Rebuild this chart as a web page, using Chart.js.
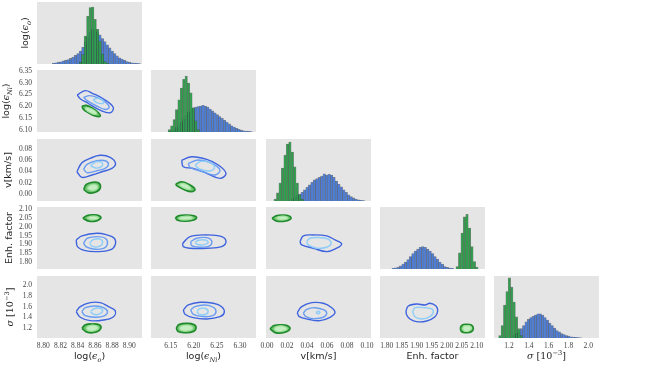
<!DOCTYPE html>
<html>
<head>
<meta charset="utf-8">
<script src="https://cdn.jsdelivr.net/npm/chart.js@4.4.1/dist/chart.umd.min.js"></script>
<style>
  html, body { margin: 0; padding: 0; background: #fff; }
  #fig { position: relative; width: 658px; height: 367px; overflow: hidden; }
  #fig canvas { position: absolute; }
</style>
</head>
<body>
<div id="fig"></div>
<script>
// parameter names ($..$ = math, _{..} subscript, ^{..} superscript)
var paramNames = ['log($ϵ_{o}$)', 'log($ϵ_{Ni}$)', 'v[km/s]', 'Enh. factor', '$σ$ $[10^{−3}]$'];

// axis ranges: columns (x) and rows (y)
var colMin = [8.7927, 6.1073, -0.001, 1.7777, 1.0487];
var colMax = [8.9148, 6.3347, 0.104, 2.1277, 2.108];
var rowMin = [0, 6.092, -0.0124, 1.762, 1.02];
var rowMax = [100, 6.353, 0.0978, 2.111, 2.166];
var histTop = 100;

// tick labels
var ticksEpsO = [8.80, 8.82, 8.84, 8.86, 8.88, 8.90];
var ticksEpsNi = [6.10, 6.15, 6.20, 6.25, 6.30, 6.35];
var ticksV = [0.00, 0.02, 0.04, 0.06, 0.08, 0.10];
var ticksEnh = [1.80, 1.85, 1.90, 1.95, 2.00, 2.05, 2.10];
var ticksSigma = [1.2, 1.4, 1.6, 1.8, 2.0];
var tickDigits = [2, 2, 2, 2, 1];

// histograms (height in % of panel), first bin edge [blue, green], common bin width
var histEpsOBlue = [1,2,3,3.5,5,6,7,9,11,14,17,21,27,35,44,52,56,55,51,47,41,36,31,26,21,17,13,10,8,6,4,3,2,1.5,1,0.5];
var histEpsOGreen = [3,15,45,77,91,92,72,56,37,16,4,1];
var histEpsOEdge = [8.8104, 8.8418];
var histEpsOBin = 0.00285;

var histEpsNiBlue = [1,2,4,7,11,16,21,27,32,36,39,40,41,42,43,42,40,37,34,31,28,25,22,19,16,13,10,8,6,4.5,3,2,1.5,1,0.5];
var histEpsNiGreen = [4,10,20,36,52,71,85,90,79,63,39,18,4];
var histEpsNiEdge = [6.1445, 6.1445];
var histEpsNiBin = 0.0052;

var histVBlue = [3,6,9,11,14,18,22,26,30,34,36,38,40,44,42,43,42,38,32,27,23,18,14,10,7,5,3,2,1,0.5];
var histVGreen = [3,13,29,53,74,92,95,79,55,29,10,3];
var histVEdge = [0.02415, 0.007];
var histVBin = 0.00245;

var histEnhBlue = [1,2,3,5,8,11,15,20,25,29,32,35,36,35,32,29,25,20,16,11,8,4,2.5,1.5,1];
var histEnhGreen = [4,26,58,84,88,66,36,12,3];
var histEnhEdge = [1.8177, 2.0309];
var histEnhBin = 0.0082;

var histSigmaBlue = [5,8,11,15,20,26,30,33,35,37,39,39,37,33,29,24,20,16,12,10,7,5.5,4,3,2,1.5,1,0.5,0.3];
var histSigmaGreen = [4,20,53,75,97,82,58,34,15,4];
var histSigmaEdge = [1.2401, 1.0961];
var histSigmaBin = 0.024;

// contours: blue [outer, middle, inner], green [outer, inner]
var ctrNiO_blue = [
  [[8.8395,6.248],[8.8488,6.266],[8.857,6.255],[8.870,6.231],[8.8813,6.196],[8.878,6.173],[8.866,6.184],[8.852,6.213],[8.843,6.232]],
  [[8.8468,6.238],[8.8538,6.245],[8.8624,6.238],[8.872,6.219],[8.8767,6.196],[8.872,6.187],[8.8624,6.201],[8.851,6.224]],
  [[8.858,6.229],[8.864,6.234],[8.870,6.222],[8.869,6.212],[8.862,6.216]]
];
var ctrNiO_green = [
  [[8.845,6.201],[8.850,6.204],[8.8577,6.1915],[8.8642,6.173],[8.8662,6.159],[8.8604,6.159],[8.8526,6.173],[8.8468,6.187]],
  [[8.850,6.196],[8.856,6.190],[8.862,6.175],[8.861,6.166],[8.855,6.172],[8.849,6.187]]
];
var ctrVO_blue = [
  [[8.8391,0.0396],[8.8449,0.0556],[8.8546,0.0635],[8.8662,0.0688],[8.8778,0.0652],[8.884,0.0546],[8.8798,0.0457],[8.8682,0.0396],[8.8566,0.0338],[8.8449,0.0297]],
  [[8.8468,0.0439],[8.8514,0.0533],[8.8624,0.0592],[8.872,0.0592],[8.8758,0.0528],[8.872,0.0457],[8.8624,0.0414],[8.8514,0.0379]],
  [[8.855,0.050],[8.860,0.0565],[8.867,0.057],[8.869,0.051],[8.862,0.046]]
];
var ctrVO_green = [
  [[8.847,0.008],[8.850,0.017],[8.857,0.021],[8.864,0.020],[8.8665,0.012],[8.862,0.004],[8.853,0.002]],
  [[8.851,0.010],[8.855,0.016],[8.862,0.016],[8.863,0.010],[8.857,0.006]]
];
var ctrVNi_blue = [
  [[6.1738,0.0604],[6.1955,0.0663],[6.2279,0.0617],[6.2531,0.0516],[6.2697,0.0368],[6.2567,0.0279],[6.2279,0.0368],[6.1989,0.0457],[6.1773,0.0485]],
  [[6.1881,0.0546],[6.2098,0.0604],[6.2388,0.0546],[6.2567,0.0427],[6.2459,0.0338],[6.2206,0.0396],[6.1918,0.0475]],
  [[6.203,0.051],[6.215,0.058],[6.235,0.056],[6.245,0.047],[6.235,0.041],[6.213,0.044]]
];
var ctrVNi_green = [
  [[6.1608,0.0178],[6.1738,0.0219],[6.1918,0.016],[6.2026,0.0083],[6.1955,0.0041],[6.1773,0.0083],[6.163,0.0148]],
  [[6.167,0.0165],[6.177,0.019],[6.190,0.014],[6.193,0.0085],[6.180,0.010]]
];
var ctrEnhO_blue = [
  [[8.8383,1.9256],[8.8449,1.948],[8.8624,1.9633],[8.874,1.9538],[8.8825,1.9352],[8.8836,1.8975],[8.8778,1.8694],[8.8624,1.8598],[8.8488,1.8654],[8.8398,1.8879]],
  [[8.8468,1.9071],[8.8514,1.9352],[8.8624,1.9442],[8.872,1.9352],[8.8747,1.9071],[8.8708,1.8789],[8.8604,1.8733],[8.8507,1.8846]],
  [[8.854,1.908],[8.858,1.927],[8.866,1.930],[8.869,1.910],[8.865,1.889],[8.857,1.889]]
];
var ctrEnhO_green = [
  [[8.846,2.048],[8.851,2.063],[8.858,2.067],[8.865,2.062],[8.867,2.048],[8.862,2.033],[8.853,2.031]],
  [[8.851,2.048],[8.855,2.058],[8.862,2.058],[8.864,2.047],[8.857,2.039]]
];
var ctrEnhNi_blue = [
  [[6.176,1.9071],[6.1918,1.9442],[6.2279,1.9538],[6.2604,1.9442],[6.2697,1.9161],[6.2604,1.8879],[6.2279,1.8789],[6.1918,1.8789],[6.1773,1.8879]],
  [[6.1933,1.9161],[6.2063,1.9352],[6.2279,1.9386],[6.2388,1.92],[6.2351,1.8936],[6.2134,1.8846],[6.1955,1.8936]],
  [[6.203,1.911],[6.210,1.924],[6.225,1.925],[6.231,1.912],[6.222,1.899],[6.208,1.900]]
];
var ctrEnhNi_green = [
  [[6.160,2.048],[6.167,2.062],[6.183,2.066],[6.200,2.062],[6.206,2.050],[6.198,2.036],[6.180,2.031],[6.165,2.036]],
  [[6.167,2.048],[6.175,2.057],[6.192,2.058],[6.198,2.048],[6.188,2.040],[6.172,2.040]]
];
var ctrEnhV_blue = [
  [[0.033,1.9161],[0.0363,1.9481],[0.0463,1.9538],[0.0597,1.9481],[0.068,1.9256],[0.0747,1.9031],[0.0697,1.8789],[0.0597,1.8598],[0.0463,1.8789],[0.0347,1.8975]],
  null,
  [[0.0397,1.9161],[0.043,1.9352],[0.053,1.9386],[0.0613,1.9296],[0.064,1.9031],[0.0597,1.8846],[0.0497,1.8789],[0.0413,1.8975]]
];
var ctrEnhV_green = [
  [[0.005,2.047],[0.009,2.062],[0.016,2.066],[0.022,2.061],[0.024,2.046],[0.019,2.033],[0.010,2.031]],
  [[0.009,2.047],[0.012,2.057],[0.018,2.058],[0.021,2.047],[0.015,2.038]]
];
var ctrSigO_blue = [
  [[8.8383,1.5066],[8.843,1.599],[8.8546,1.6729],[8.8662,1.6729],[8.8758,1.599],[8.8836,1.525],[8.8817,1.4142],[8.87,1.3532],[8.8546,1.3403],[8.843,1.4031]],
  [[8.8449,1.5066],[8.8488,1.5805],[8.8604,1.6119],[8.87,1.5805],[8.8747,1.5066],[8.8708,1.4271],[8.8604,1.4031],[8.8488,1.4327]],
  [[8.855,1.51],[8.859,1.56],[8.866,1.57],[8.869,1.52],[8.865,1.46],[8.858,1.46]]
];
var ctrSigO_green = [
  [[8.845,1.20],[8.849,1.265],[8.857,1.28],[8.865,1.265],[8.867,1.20],[8.862,1.13],[8.851,1.125]],
  [[8.850,1.20],[8.853,1.245],[8.861,1.25],[8.864,1.20],[8.858,1.15],[8.852,1.16]]
];
var ctrSigNi_blue = [
  [[6.1773,1.538],[6.1881,1.6304],[6.2134,1.6803],[6.2422,1.6618],[6.2604,1.599],[6.266,1.4955],[6.2567,1.4142],[6.2279,1.3717],[6.1989,1.3957],[6.181,1.4585]],
  [[6.1933,1.538],[6.2026,1.599],[6.2243,1.6304],[6.2422,1.5879],[6.2481,1.5066],[6.2409,1.4327],[6.2206,1.4142],[6.1989,1.4585]],
  [[6.207,1.51],[6.212,1.56],[6.225,1.565],[6.231,1.51],[6.225,1.455],[6.212,1.455]]
];
var ctrSigNi_green = [
  [[6.162,1.205],[6.168,1.27],[6.185,1.29],[6.200,1.27],[6.205,1.205],[6.198,1.135],[6.180,1.12],[6.166,1.14]],
  [[6.168,1.205],[6.175,1.25],[6.190,1.255],[6.198,1.205],[6.190,1.155],[6.174,1.155]]
];
var ctrSigV_blue = [
  [[0.0303,1.4881],[0.0347,1.599],[0.0447,1.6729],[0.0563,1.6618],[0.0647,1.5805],[0.068,1.4881],[0.063,1.4031],[0.053,1.3403],[0.0413,1.3661],[0.0323,1.4142]],
  [[0.0363,1.477],[0.0397,1.5509],[0.048,1.5805],[0.057,1.538],[0.0597,1.477],[0.0563,1.4031],[0.0463,1.3772],[0.039,1.4142]],
  [[0.049,1.49],[0.051,1.515],[0.053,1.49],[0.051,1.468]]
];
var ctrSigV_green = [
  [[0.003,1.19],[0.007,1.25],[0.014,1.265],[0.020,1.25],[0.023,1.19],[0.018,1.125],[0.009,1.115]],
  [[0.007,1.19],[0.010,1.235],[0.016,1.24],[0.020,1.19],[0.015,1.145],[0.009,1.15]]
];
var ctrSigEnh_blue = [
  [[1.8643,1.5195],[1.872,1.6119],[1.9,1.6489],[1.9277,1.6304],[1.9443,1.6618],[1.9643,1.6119],[1.97,1.5195],[1.961,1.4142],[1.9333,1.3347],[1.9,1.3218],[1.8777,1.3717],[1.8667,1.4456]],
  null,
  [[1.8867,1.5066],[1.8943,1.5805],[1.922,1.5805],[1.95,1.5565],[1.9553,1.4955],[1.9443,1.4142],[1.9167,1.3717],[1.8943,1.4142]]
];
var ctrSigEnh_green = [
  [[2.045,1.195],[2.050,1.255],[2.065,1.275],[2.082,1.26],[2.089,1.195],[2.082,1.135],[2.065,1.12],[2.050,1.135]],
  [[2.053,1.195],[2.058,1.24],[2.068,1.25],[2.080,1.235],[2.082,1.19],[2.072,1.145],[2.058,1.15]]
];

// ---- lookup tables built from the arrays above ----
var axisTicks = [ticksEpsO, ticksEpsNi, ticksV, ticksEnh, ticksSigma];
var hists = [
  [histEpsOBlue, histEpsOGreen, histEpsOEdge, histEpsOBin],
  [histEpsNiBlue, histEpsNiGreen, histEpsNiEdge, histEpsNiBin],
  [histVBlue, histVGreen, histVEdge, histVBin],
  [histEnhBlue, histEnhGreen, histEnhEdge, histEnhBin],
  [histSigmaBlue, histSigmaGreen, histSigmaEdge, histSigmaBin]
];
var contours = {
  '1,0': [ctrNiO_blue, ctrNiO_green],
  '2,0': [ctrVO_blue, ctrVO_green],
  '2,1': [ctrVNi_blue, ctrVNi_green],
  '3,0': [ctrEnhO_blue, ctrEnhO_green],
  '3,1': [ctrEnhNi_blue, ctrEnhNi_green],
  '3,2': [ctrEnhV_blue, ctrEnhV_green],
  '4,0': [ctrSigO_blue, ctrSigO_green],
  '4,1': [ctrSigNi_blue, ctrSigNi_green],
  '4,2': [ctrSigV_blue, ctrSigV_green],
  '4,3': [ctrSigEnh_blue, ctrSigEnh_green]
};

// ---- layout & style ----
var colLeft = [37, 151, 266, 380, 494];
var rowTop = [2, 70, 139, 207, 276];
var panelW = 105, panelH = 62, M = 8;
var yAxisW = 37, xAxisH = 29;
var yTitleGap = [11, 30, 28, 27, 26];
var blueHist = '#4b7dd8', greenHist = '#2f9e4c', barEdge = 'rgba(45,45,45,0.55)';
var blueLines = ['#3e63de', '#6a9cf2', '#8dcdf8'];
var greenLine = ['#1f8a2c', '#a4e0a0'];
var greenFill = ['#6cc46e', '#c4efc2'];

function parseRich(str) {
  var segs = [], math = false, i = 0;
  while (i < str.length) {
    var ch = str[i];
    if (ch === '$') { math = !math; i++; continue; }
    if (math && (ch === '_' || ch === '^') && str[i + 1] === '{') {
      var j = str.indexOf('}', i);
      var inner = str.slice(i + 2, j);
      for (var k = 0; k < inner.length; k++) segs.push({t: inner[k], math: true, shift: ch === '_' ? 1 : -1});
      i = j + 1; continue;
    }
    segs.push({t: ch, math: math, shift: 0});
    i++;
  }
  return segs;
}

function segFont(s, size) {
  var sz = s.shift ? size * 0.7 : size;
  if (!s.math) return sz + 'px "DejaVu Sans"';
  var it = /[A-Za-zϵσ]/.test(s.t) ? 'italic ' : '';
  return it + sz + 'px "DejaVu Serif"';
}

function drawRich(ctx, str, x, y, rotate, size) {
  var segs = parseRich(str), total = 0;
  ctx.save();
  ctx.textBaseline = 'middle';
  ctx.fillStyle = '#262626';
  segs.forEach(function(s) { ctx.font = segFont(s, size); s.w = ctx.measureText(s.t).width; total += s.w; });
  ctx.translate(x, y);
  if (rotate) ctx.rotate(-Math.PI / 2);
  var cx = -total / 2;
  segs.forEach(function(s) {
    ctx.font = segFont(s, size);
    var dy = s.shift === 1 ? size * 0.32 : (s.shift === -1 ? -size * 0.38 : 0);
    ctx.fillText(s.t, cx, dy);
    cx += s.w;
  });
  ctx.restore();
}

function panelPlugin(xTitle, yTitle, yGap) {
  return {
    id: 'panelDeco',
    beforeDraw: function(chart) {
      var a = chart.chartArea, ctx = chart.ctx;
      ctx.save();
      ctx.fillStyle = '#e5e5e5';
      ctx.fillRect(a.left, a.top, a.right - a.left, a.bottom - a.top);
      ctx.restore();
    },
    afterDraw: function(chart) {
      var a = chart.chartArea, ctx = chart.ctx;
      if (xTitle) drawRich(ctx, xTitle, (a.left + a.right) / 2, a.bottom + 19, false, 9.5);
      if (yTitle) drawRich(ctx, yTitle, a.left - yGap, (a.top + a.bottom) / 2, true, 9.5);
    }
  };
}

function axisOpts(min, max, ticks, digits, show, isX, visible) {
  return {
    type: 'linear', min: min, max: max, offset: false, display: visible,
    grid: {display: false, drawTicks: false},
    border: {display: false},
    ticks: {
      display: show, padding: isX ? 4 : 5, color: '#444', autoSkip: false, maxRotation: 0,
      font: {family: 'Liberation Serif', size: 7.5},
      callback: function(v) { return Number(v).toFixed(digits); }
    },
    afterBuildTicks: function(s) {
      if (!ticks) return;
      s.ticks = ticks.filter(function(t) { return t >= min - 1e-9 && t <= max + 1e-9; })
                     .map(function(t) { return {value: t}; });
    },
    afterFit: function(s) {
      if (visible) {
        if (isX) s.height = xAxisH; else s.width = yAxisW;
      } else {
        s.width = 0; s.height = 0;
      }
      s.paddingLeft = s.paddingRight = s.paddingTop = s.paddingBottom = 0;
    }
  };
}

function ring(pts) {
  var d = pts.map(function(p) { return {x: p[0], y: p[1]}; });
  d.push(d[0]);
  return d;
}

var fig = document.getElementById('fig');

function makePanel(r, c) {
  var hasY = c === 0, hasX = r === 4, diag = r === c;
  var yW = hasY ? yAxisW : 0, xH = hasX ? xAxisH : 0;
  var cv = document.createElement('canvas');
  cv.width = panelW + yW + 2 * M;
  cv.height = panelH + xH + 2 * M;
  cv.style.left = (colLeft[c] - yW - M) + 'px';
  cv.style.top = (rowTop[r] - M) + 'px';
  fig.appendChild(cv);

  var scales = {
    x: axisOpts(colMin[c], colMax[c], axisTicks[c], tickDigits[c], hasX, true, hasX),
    y: diag ? axisOpts(0, histTop, [0, histTop], 0, false, false, hasY)
            : axisOpts(rowMin[r], rowMax[r], axisTicks[r], tickDigits[r], hasY, false, hasY)
  };

  var type, datasets = [];
  if (diag) {
    type = 'bar';
    var h = hists[c];
    // bar thickness = one bin, converted to pixels through the axis range
    var thick = h[3] / (colMax[c] - colMin[c]) * panelW;
    var green = h[1].map(function(v, i) { return {x: h[2][1] + (i + 0.5) * h[3], y: v}; });
    var blue = h[0].map(function(v, i) { return {x: h[2][0] + (i + 0.5) * h[3], y: v}; });
    datasets.push({data: green, backgroundColor: greenHist, borderColor: barEdge, borderWidth: 0.6,
                   barThickness: thick, grouped: false});
    datasets.push({data: blue, backgroundColor: blueHist, borderColor: barEdge, borderWidth: 0.6,
                   barThickness: thick, grouped: false});
  } else {
    type = 'scatter';
    var ct = contours[r + ',' + c];
    // first dataset is drawn on top
    for (var g = ct[1].length - 1; g >= 0; g--) {
      datasets.push({data: ring(ct[1][g]), showLine: true, pointRadius: 0, tension: 0.4,
                     borderColor: greenLine[g], borderWidth: g === 0 ? 1.6 : 1.2,
                     backgroundColor: greenFill[g], fill: 'shape'});
    }
    for (var k = ct[0].length - 1; k >= 0; k--) {
      if (!ct[0][k]) continue;
      datasets.push({data: ring(ct[0][k]), showLine: true, pointRadius: 0, tension: 0.4,
                     borderColor: blueLines[k], borderWidth: 1.4, fill: false});
    }
  }

  new Chart(cv, {
    type: type,
    data: {datasets: datasets},
    options: {
      responsive: false, animation: false, devicePixelRatio: 1, events: [],
      layout: {padding: M},
      plugins: {legend: {display: false}, tooltip: {enabled: false}},
      scales: scales
    },
    plugins: [panelPlugin(hasX ? paramNames[c] : null, hasY ? paramNames[r] : null, yTitleGap[r])]
  });
}

for (var r = 0; r < 5; r++) {
  for (var c = 0; c <= r; c++) makePanel(r, c);
}
</script>
</body>
</html>
